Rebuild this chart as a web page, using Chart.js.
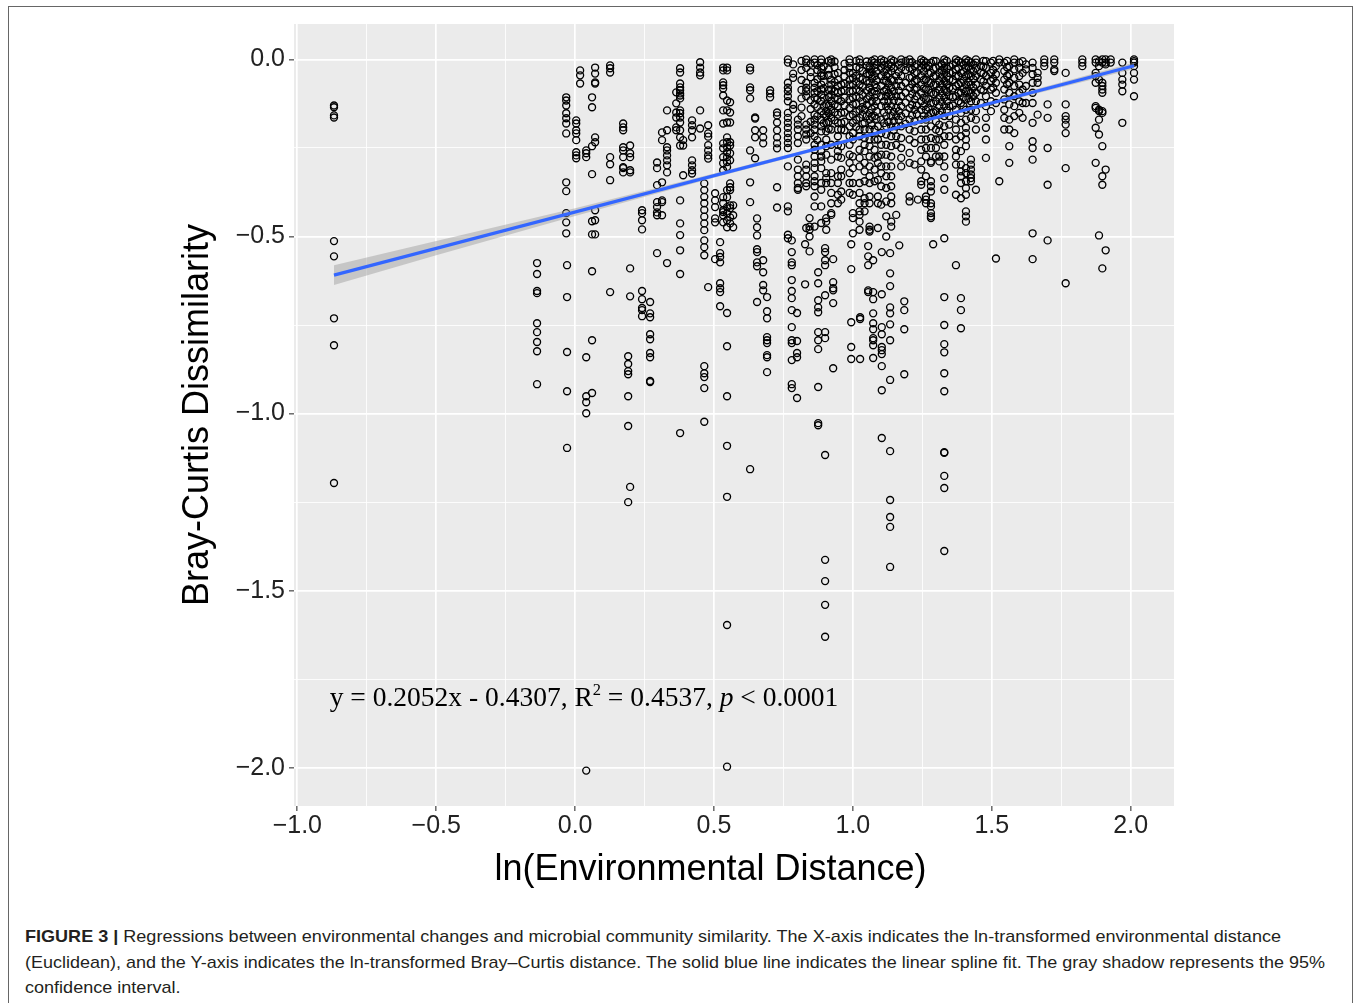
<!DOCTYPE html>
<html><head><meta charset="utf-8">
<script src="https://cdn.jsdelivr.net/npm/chart.js@4.4.1/dist/chart.umd.min.js"></script>
<style>
html,body{margin:0;padding:0;background:#fff;width:1360px;height:1003px;overflow:hidden;}
#frame{position:absolute;left:8px;top:6px;width:1345px;height:1020px;border:1px solid #666;box-sizing:border-box;}
#wrap{position:absolute;left:0;top:0;width:1360px;height:900px;}
.cap{position:absolute;left:25px;font-family:"Liberation Sans Narrow","Liberation Sans",Arial,sans-serif;font-size:17px;line-height:20px;color:#231f20;white-space:nowrap;transform-origin:0 50%;}
</style></head>
<body>
<div id="frame"></div>
<div id="wrap"><canvas id="c" width="1360" height="900"></canvas></div>
<div class="cap" id="l1" style="top:927px"><b>FIGURE 3 |</b> Regressions between environmental changes and microbial community similarity. The X-axis indicates the ln-transformed environmental distance</div>
<div class="cap" id="l2" style="top:953px">(Euclidean), and the Y-axis indicates the ln-transformed Bray–Curtis distance. The solid blue line indicates the linear spline fit. The gray shadow represents the 95%</div>
<div class="cap" id="l3" style="top:978px">confidence interval.</div>
<script>
// ---- data ----
const xMajor = [-1, -0.5, 0, 0.5, 1, 1.5, 2];
const xMinor = [-0.75, -0.25, 0.25, 0.75, 1.25, 1.75];
const yMajor = [0, -0.5, -1, -1.5, -2];
const yMinor = [-0.25, -0.75, -1.25, -1.75];

const columnX = [
 -0.868,-0.137,-0.032,-0.029,0.004,0.018,0.040,0.061,0.072,0.126,
 0.173,0.191,0.198,0.241,0.270,0.295,0.313,0.331,0.364,0.378,
 0.389,0.421,0.450,0.465,0.479,0.504,0.522,0.533,0.547,0.558,
 0.569,0.630,0.648,0.655,0.677,0.691,0.702,0.727,0.766,0.780,
 0.799,0.802,0.828,0.832,0.844,0.862,0.875,0.886,0.900,0.904,
 0.922,0.929,0.946,0.958,0.988,0.994,1.000,1.024,1.026,1.042,
 1.055,1.060,1.073,1.078,1.090,1.102,1.104,1.120,1.134,1.138,
 1.156,1.167,1.174,1.185,1.204,1.222,1.234,1.246,1.263,1.281,
 1.289,1.299,1.311,1.329,1.347,1.371,1.389,1.407,1.425,1.443,
 1.461,1.479,1.497,1.515,1.527,1.545,1.563,1.581,1.599,1.611,
 1.623,1.647,1.665,1.689,1.701,1.725,1.766,1.826,1.874,1.886,
 1.898,1.910,1.928,1.970,2.012
];
const columnY = [
 [-0.130,-0.135,-0.158,-0.164,-0.513,-0.556,-0.731,-0.807,-1.196],
 [-0.575,-0.606,-0.654,-0.660,-0.745,-0.770,-0.798,-0.824,-0.917],
 [-0.107,-0.116,-0.130,-0.152,-0.166,-0.181,-0.209,-0.347,-0.372,-0.434,-0.460,-0.491],
 [-0.581,-0.671,-0.826,-0.937,-1.097],
 [-0.172,-0.181,-0.200,-0.209,-0.228,-0.262,-0.271,-0.279],
 [-0.031,-0.045,-0.068],
 [-0.257,-0.265,-0.276,-0.841,-0.951,-0.968,-0.999,-2.008],
 [-0.107,-0.135,-0.245,-0.324,-0.457,-0.494,-0.598,-0.793,-0.942],
 [-0.023,-0.040,-0.065,-0.068,-0.220,-0.234,-0.426,-0.454,-0.494],
 [-0.017,-0.025,-0.037,-0.276,-0.296,-0.341,-0.657],
 [-0.181,-0.192,-0.200,-0.248,-0.257,-0.276,-0.304,-0.307,-0.319],
 [-0.838,-0.860,-0.880,-0.889,-0.951,-1.035,-1.250],
 [-0.243,-0.265,-0.276,-0.313,-0.319,-0.590,-0.669,-1.207],
 [-0.426,-0.434,-0.454,-0.480,-0.654,-0.677,-0.702,-0.708,-0.725],
 [-0.685,-0.717,-0.728,-0.776,-0.790,-0.829,-0.841,-0.908,-0.911],
 [-0.291,-0.307,-0.355,-0.403,-0.417,-0.432,-0.440,-0.547],
 [-0.206,-0.228,-0.347,-0.398,-0.403,-0.440],
 [-0.144,-0.200,-0.248,-0.257,-0.271,-0.285,-0.299,-0.319,-0.575],
 [-0.093,-0.124,-0.150,-0.164,-0.192,-0.200],
 [-0.025,-0.037,-0.068,-0.079,-0.087,-0.096,-0.102,-0.110,-0.144,-0.152,-0.164,-0.178,-0.200,-0.220,-0.243,-0.398,-0.463,-0.496,-0.539,-0.606,-1.055],
 [-0.228,-0.243,-0.327],
 [-0.172,-0.186,-0.200,-0.220,-0.285,-0.299,-0.313,-0.322],
 [-0.008,-0.023,-0.037,-0.045,-0.144,-0.195],
 [-0.350,-0.369,-0.388,-0.406,-0.425,-0.444,-0.463,-0.482,-0.511,-0.530,-0.553,-0.866,-0.886,-0.897,-0.928,-1.023],
 [-0.186,-0.209,-0.218,-0.242,-0.257,-0.271,-0.280,-0.643],
 [-0.378,-0.398,-0.417,-0.449,-0.460,-0.564],
 [-0.516,-0.547,-0.558,-0.573,-0.632,-0.646,-0.657,-0.697],
 [-0.023,-0.031,-0.065,-0.073,-0.082,-0.102,-0.144,-0.181,-0.237,-0.251,-0.276,-0.293,-0.313,-0.389,-0.406,-0.426,-0.431,-0.440,-0.460],
 [-0.023,-0.031,-0.116,-0.144,-0.178,-0.220,-0.234,-0.248,-0.262,-0.276,-0.290,-0.304,-0.369,-0.389,-0.417,-0.434,-0.454,-0.474,-0.716,-0.810,-0.951,-1.091,-1.235,-1.597,-1.997],
 [-0.121,-0.150,-0.178,-0.234,-0.243,-0.265,-0.285,-0.350,-0.361,-0.369,-0.412,-0.420,-0.446,-0.463],
 [-0.412,-0.440,-0.474],
 [-0.023,-0.031,-0.079,-0.087,-0.110,-0.257,-0.347,-0.403,-1.157],
 [-0.164,-0.167,-0.200,-0.220,-0.279],
 [-0.449,-0.474,-0.497,-0.536,-0.544,-0.573,-0.584,-0.685],
 [-0.200,-0.220,-0.237,-0.567,-0.601,-0.637,-0.652],
 [-0.671,-0.711,-0.731,-0.784,-0.793,-0.801,-0.835,-0.841,-0.883],
 [-0.087,-0.096,-0.107],
 [-0.150,-0.158,-0.178,-0.200,-0.220,-0.237,-0.251,-0.361,-0.418],
 [0,-0.009,-0.066,-0.080,-0.090,-0.104,-0.118,-0.151,-0.165,-0.179,-0.193,-0.208,-0.222,-0.236,-0.250,-0.302,-0.415,-0.429,-0.495,-0.505],
 [-0.511,-0.544,-0.573,-0.581,-0.623,-0.654,-0.674,-0.708,-0.756,-0.793,-0.801,-0.849,-0.917,-0.928],
 [-0.716,-0.795,-0.829,-0.841,-0.956],
 [-0.170,-0.184,-0.198,-0.217,-0.236,-0.283,-0.311,-0.330,-0.349,-0.363,-0.368],
 [-0.522,-0.635],
 [0,-0.009,-0.024,-0.066,-0.080,-0.090,-0.104,-0.184,-0.198,-0.212,-0.226,-0.297,-0.311,-0.330,-0.349,-0.358,-0.476],
 [-0.448,-0.472,-0.481,-0.500,-0.542],
 [0,-0.009,-0.066,-0.080,-0.094,-0.108,-0.127,-0.156,-0.170,-0.184,-0.198,-0.217,-0.241,-0.255,-0.274,-0.292,-0.307,-0.330,-0.344,-0.358,-0.387,-0.415,-0.472],
 [-0.601,-0.632,-0.680,-0.700,-0.714,-0.770,-0.793,-0.818,-0.925,-1.027,-1.033],
 [0,-0.009,-0.024,-0.038,-0.047,-0.071,-0.085,-0.099,-0.118,-0.146,-0.170,-0.189,-0.203,-0.241,-0.259,-0.274,-0.288,-0.307,-0.349,-0.368,-0.415,-0.462],
 [-0.533,-0.544,-0.567,-0.581,-0.666,-0.770,-0.787,-1.117,-1.413,-1.473,-1.540,-1.630],
 [-0.127,-0.146,-0.160,-0.179,-0.203,-0.226,-0.245,-0.269,-0.321,-0.335,-0.349,-0.448,-0.458,-0.481],
 [0,-0.009,-0.057,-0.071,-0.085,-0.099,-0.118,-0.142,-0.165,-0.198,-0.241,-0.283,-0.321,-0.349,-0.377,-0.406,-0.434,-0.439],
 [-0.564,-0.629,-0.646,-0.652,-0.688,-0.872],
 [-0.038,-0.057,-0.075,-0.094,-0.113,-0.132,-0.156,-0.179,-0.198,-0.217,-0.241,-0.259,-0.274,-0.330,-0.349,-0.382,-0.406],
 [-0.071,-0.090,-0.118,-0.151,-0.179,-0.198,-0.245,-0.278,-0.311,-0.330,-0.373,-0.396],
 [0,-0.009,-0.024,-0.038,-0.057,-0.071,-0.090,-0.113,-0.137,-0.160,-0.189,-0.217,-0.241,-0.269,-0.292,-0.321,-0.349,-0.377],
 [-0.522,-0.592,-0.742,-0.812,-0.846],
 [-0.038,-0.052,-0.071,-0.090,-0.108,-0.127,-0.156,-0.179,-0.208,-0.226,-0.274,-0.307,-0.349,-0.382,-0.434,-0.448,-0.491],
 [0,-0.009,-0.024,-0.052,-0.071,-0.090,-0.108,-0.142,-0.165,-0.198,-0.217,-0.255,-0.278,-0.302,-0.349,-0.377,-0.406,-0.429,-0.439,-0.458,-0.481],
 [-0.728,-0.733,-0.846],
 [-0.142,-0.179,-0.198,-0.222,-0.241,-0.259,-0.292,-0.316,-0.344,-0.392,-0.406,-0.429],
 [-0.527,-0.556,-0.581,-0.652,-0.657],
 [-0.019,-0.028,-0.042,-0.066,-0.080,-0.104,-0.151,-0.170,-0.198,-0.226,-0.245,-0.274,-0.302,-0.330,-0.349,-0.387,-0.406,-0.472,-0.481,-0.486],
 [-0.567,-0.657,-0.677,-0.717,-0.745,-0.762,-0.787,-0.793,-0.807,-0.843],
 [0,-0.009,-0.024,-0.047,-0.071,-0.090,-0.108,-0.132,-0.160,-0.198,-0.226,-0.255,-0.278,-0.311,-0.344],
 [-0.189,-0.226,-0.274,-0.292,-0.340,-0.387,-0.406,-0.476],
 [0,-0.009,-0.024,-0.047,-0.075,-0.104,-0.132,-0.170,-0.208,-0.241,-0.269,-0.302,-0.321,-0.358,-0.410],
 [-0.544,-0.663,-0.756,-0.776,-0.812,-0.821,-0.832,-0.866,-0.934,-1.069],
 [-0.028,-0.047,-0.061,-0.085,-0.104,-0.132,-0.160,-0.189,-0.212,-0.241,-0.269,-0.302,-0.330,-0.363,-0.401,-0.443,-0.500],
 [-0.547,-0.604,-0.640,-0.700,-0.717,-0.748,-0.793,-0.905,-1.106,-1.244,-1.292,-1.320,-1.433],
 [0,-0.009,-0.019,-0.033,-0.057,-0.080,-0.104,-0.132,-0.160,-0.189,-0.217,-0.245,-0.274,-0.302,-0.330,-0.358,-0.387,-0.406,-0.458,-0.472],
 [-0.047,-0.075,-0.104,-0.137,-0.160,-0.189,-0.217,-0.241,-0.439],
 [-0.525],
 [0,-0.009,-0.024,-0.047,-0.075,-0.104,-0.132,-0.160,-0.189,-0.222,-0.250,-0.278,-0.302],
 [-0.683,-0.708,-0.762,-0.889],
 [0,-0.009,-0.024,-0.052,-0.080,-0.108,-0.137,-0.170,-0.198,-0.226,-0.264,-0.292,-0.387,-0.401],
 [-0.019,-0.038,-0.061,-0.085,-0.113,-0.142,-0.175,-0.203,-0.236,-0.297],
 [-0.396],
 [0,-0.009,-0.024,-0.047,-0.071,-0.094,-0.118,-0.142,-0.170,-0.198,-0.226,-0.255,-0.288,-0.311,-0.344,-0.354],
 [-0.009,-0.024,-0.057,-0.085,-0.113,-0.142,-0.170,-0.198,-0.226,-0.250,-0.274,-0.330,-0.387,-0.396,-0.406],
 [-0.009,-0.038,-0.066,-0.094,-0.123,-0.151,-0.189,-0.222,-0.250,-0.288,-0.292,-0.344,-0.358,-0.373,-0.406,-0.415,-0.434,-0.443,-0.448],
 [-0.522],
 [-0.005,-0.024,-0.047,-0.071,-0.094,-0.118,-0.146,-0.175,-0.198,-0.226,-0.250,-0.274],
 [-0.019,-0.038,-0.061,-0.085,-0.108,-0.132,-0.156,-0.184,-0.203,-0.226,-0.274,-0.288],
 [0,-0.009,-0.024,-0.038,-0.061,-0.085,-0.108,-0.132,-0.160,-0.189,-0.217,-0.241,-0.274,-0.302,-0.335,-0.368,-0.505,-0.671,-0.750,-0.804,-0.827,-0.886,-0.937,-1.109,-1.111,-1.176,-1.210,-1.388],
 [-0.019,-0.038,-0.057,-0.080,-0.104,-0.132,-0.160,-0.184,-0.217],
 [0,-0.009,-0.028,-0.047,-0.075,-0.104,-0.142,-0.170,-0.198,-0.226,-0.255,-0.274,-0.297,-0.382,-0.581],
 [-0.009,-0.038,-0.066,-0.094,-0.123,-0.151,-0.179,-0.217,-0.259,-0.297,-0.316,-0.330,-0.349,-0.392,-0.674,-0.708,-0.759],
 [0,-0.009,-0.024,-0.047,-0.071,-0.090,-0.113,-0.142,-0.170,-0.193,-0.208,-0.226,-0.245,-0.307,-0.321,-0.344,-0.363,-0.382,-0.429,-0.443,-0.458],
 [-0.009,-0.028,-0.047,-0.071,-0.094,-0.118,-0.142,-0.165,-0.283,-0.297,-0.311,-0.325,-0.335,-0.344],
 [0,-0.009,-0.024,-0.047,-0.071,-0.094,-0.118,-0.146,-0.170,-0.198,-0.368],
 [-0.019,-0.038,-0.057,-0.085,-0.123],
 [-0.005,-0.024,-0.047,-0.075,-0.104,-0.132,-0.165,-0.193,-0.226,-0.278],
 [-0.009,-0.038,-0.061,-0.085,-0.118,-0.146],
 [-0.019,-0.042,-0.066,-0.094,-0.123,-0.562],
 [0,-0.009,-0.344],
 [-0.009,-0.033,-0.057,-0.085,-0.113,-0.142,-0.165,-0.198],
 [-0.019,-0.042,-0.066,-0.094,-0.127,-0.170,-0.198,-0.245,-0.292],
 [0,-0.009,-0.028,-0.052,-0.075,-0.104,-0.132,-0.160,-0.208],
 [-0.009,-0.024,-0.047,-0.071,-0.094,-0.118,-0.151],
 [-0.005,-0.038,-0.085,-0.123,-0.165],
 [-0.014,-0.028,-0.075,-0.123],
 [-0.009,-0.024,-0.042,-0.066,-0.094,-0.123,-0.179,-0.231,-0.250,-0.283,-0.491,-0.564],
 [-0.038,-0.052,-0.066,-0.156],
 [0,-0.009,-0.019],
 [-0.127,-0.165,-0.250,-0.354,-0.511],
 [0,-0.009,-0.028,-0.033],
 [-0.038,-0.127,-0.160,-0.170,-0.184,-0.208,-0.307,-0.632],
 [0,-0.009,-0.019],
 [0,-0.009,-0.038,-0.047,-0.066,-0.132,-0.137,-0.193,-0.292],
 [-0.005,-0.019,-0.057,-0.142,-0.146,-0.170,-0.212,-0.497],
 [0,-0.009,-0.066,-0.075,-0.085,-0.094,-0.146,-0.151,-0.245,-0.330,-0.354,-0.590],
 [0,-0.009,-0.014,-0.311,-0.539],
 [0,-0.009],
 [-0.009,-0.038,-0.057,-0.071,-0.090,-0.179],
 [0,-0.005,-0.009,-0.019,-0.038,-0.057,-0.104]
];

// overlapping points of the saturated cluster near the top (estimated)
const clusterX = [
 0.785,0.815,0.848,0.872,0.895,0.913,0.934,0.970,1.012,1.035,
 1.050,1.068,1.085,1.112,1.128,1.147,1.165,1.190,1.213,1.230,
 1.255,1.272,1.290,1.320,1.338,1.360,1.380,1.398,1.416,1.434,
 1.470,1.505,1.555
];
const clusterY = [
 [-0.014,-0.040,-0.052,-0.128,-0.140],
 [-0.004,-0.030,-0.058,-0.086,-0.110,-0.136,-0.160],
 [-0.012,-0.036,-0.050,-0.115,-0.140,-0.176,-0.208],
 [-0.016,-0.030,-0.056,-0.090,-0.112,-0.134,-0.160,-0.228],
 [-0.020,-0.046,-0.062,-0.082,-0.108,-0.132,-0.155,-0.180],
 [-0.004,-0.028,-0.044,-0.086,-0.106,-0.130,-0.152,-0.176,-0.196],
 [-0.006,-0.022,-0.042,-0.064,-0.090,-0.108,-0.128,-0.150,-0.172],
 [-0.012,-0.030,-0.048,-0.068,-0.088,-0.108,-0.130,-0.150,-0.176,-0.200],
 [-0.004,-0.022,-0.046,-0.062,-0.084,-0.104,-0.126,-0.148,-0.170,-0.190],
 [-0.032,-0.056,-0.078,-0.100,-0.120,-0.134,-0.156,-0.182],
 [-0.006,-0.018,-0.040,-0.060,-0.088,-0.112,-0.128,-0.160],
 [-0.004,-0.036,-0.054,-0.092,-0.118,-0.140,-0.162,-0.186],
 [-0.014,-0.034,-0.058,-0.080,-0.098,-0.118,-0.146,-0.168],
 [-0.004,-0.016,-0.036,-0.060,-0.090,-0.118,-0.150,-0.180],
 [-0.014,-0.040,-0.068,-0.094,-0.118,-0.142,-0.176],
 [-0.004,-0.024,-0.060,-0.090,-0.116,-0.148,-0.174,-0.200],
 [-0.014,-0.036,-0.060,-0.088,-0.118,-0.146,-0.170],
 [-0.004,-0.030,-0.066,-0.094,-0.122,-0.152,-0.182],
 [-0.008,-0.028,-0.050,-0.070,-0.098,-0.128,-0.158],
 [-0.014,-0.036,-0.058,-0.080,-0.104,-0.130,-0.154],
 [-0.004,-0.016,-0.034,-0.058,-0.082,-0.108,-0.132,-0.160],
 [-0.018,-0.040,-0.062,-0.086,-0.110,-0.136,-0.160],
 [-0.004,-0.026,-0.048,-0.072,-0.098,-0.124,-0.150],
 [-0.014,-0.030,-0.050,-0.072,-0.096,-0.120,-0.146],
 [-0.004,-0.026,-0.048,-0.070,-0.092,-0.118,-0.144],
 [-0.014,-0.036,-0.058,-0.082,-0.106,-0.130],
 [-0.004,-0.024,-0.046,-0.070,-0.094,-0.118],
 [-0.014,-0.036,-0.060,-0.084,-0.108,-0.132],
 [-0.004,-0.020,-0.042,-0.064,-0.088,-0.110],
 [-0.014,-0.034,-0.056,-0.080,-0.104],
 [-0.004,-0.020,-0.040,-0.062,-0.088],
 [-0.004,-0.030,-0.054,-0.080],
 [-0.004,-0.022,-0.046,-0.070]
];

// fitted line (from reported equation, read endpoints) and 95% CI band
const fitX = [-0.868, 2.012];
const fitY = [-0.609, -0.018];
const bandX = [-0.868, -0.5, 0, 0.5, 1.0, 1.5, 2.012];
const bandUpper = [-0.581, -0.513, -0.420, -0.322, -0.222, -0.118, -0.009];
const bandLower = [-0.637, -0.553, -0.442, -0.334, -0.230, -0.128, -0.027];

const xTitle = 'ln(Environmental Distance)';
const yTitle = 'Bray-Curtis Dissimilarity';

// ---- chart ----
const FONT = '"Liberation Sans", Arial, Helvetica, sans-serif';
const points = [];
columnX.forEach((x, i) => columnY[i].forEach(y => points.push({x, y})));
clusterX.forEach((x, i) => clusterY[i].forEach(y => points.push({x, y})));
const fitPts = fitX.map((x, i) => ({x, y: fitY[i]}));
const upPts = bandX.map((x, i) => ({x, y: bandUpper[i]}));
const loPts = bandX.map((x, i) => ({x, y: bandLower[i]}));

const fmt = v => { const s = Math.abs(v).toFixed(1); return v < 0 ? '\u2212' + s : s; };
const isIn = (arr, v) => arr.some(a => Math.abs(a - v) < 1e-9);

const panelBg = {
  id: 'panelBg',
  beforeDraw(chart) {
    const {ctx, chartArea: a} = chart;
    ctx.save();
    ctx.fillStyle = '#EBEBEB';
    ctx.fillRect(a.left, a.top, a.right - a.left, a.bottom - a.top);
    ctx.restore();
  }
};
const annot = {
  id: 'annot',
  afterDraw(chart) {
    const {ctx, scales: {x, y}} = chart;
    ctx.save();
    ctx.fillStyle = '#000';
    ctx.textBaseline = 'alphabetic';
    const size = 27.5;
    const serif = '"Liberation Serif", "Times New Roman", serif';
    const parts = [
      {t: 'y = 0.2052x - 0.4307, R', f: `${size}px ${serif}`, dy: 0},
      {t: '2', f: `${size * 0.6}px ${serif}`, dy: -size * 0.38},
      {t: ' = 0.4537, ', f: `${size}px ${serif}`, dy: 0},
      {t: 'p', f: `italic ${size}px ${serif}`, dy: 0},
      {t: ' < 0.0001', f: `${size}px ${serif}`, dy: 0}
    ];
    let total = 0;
    parts.forEach(p => { ctx.font = p.f; p.w = ctx.measureText(p.t).width; total += p.w; });
    let cx = x.getPixelForValue(0.032) - total / 2;
    const by = y.getPixelForValue(-1.825);
    ctx.textAlign = 'left';
    parts.forEach(p => { ctx.font = p.f; ctx.fillText(p.t, cx, by + p.dy); cx += p.w; });
    ctx.font = `36px ${FONT}`;
    ctx.textAlign = 'center';
    ctx.fillText(xTitle, 710.5, 880);
    ctx.restore();
  }
};

new Chart(document.getElementById('c'), {
  type: 'scatter',
  data: {
    datasets: [
      {label: 'fit', data: fitPts, showLine: true, borderColor: '#3366FF', borderWidth: 3.2, pointRadius: 0, fill: false, order: 0},
      {label: 'ciUpper', data: upPts, showLine: true, borderWidth: 0, borderColor: 'rgba(0,0,0,0)', pointRadius: 0, fill: '+1', backgroundColor: 'rgba(153,153,153,0.45)', order: 1},
      {label: 'ciLower', data: loPts, showLine: true, borderWidth: 0, borderColor: 'rgba(0,0,0,0)', pointRadius: 0, fill: false, order: 2},
      {label: 'pairs', data: points, showLine: false, pointRadius: 3.5, pointBorderWidth: 1.35, pointBorderColor: '#000', pointBackgroundColor: 'rgba(0,0,0,0)', order: 3}
    ]
  },
  options: {
    responsive: false,
    animation: false,
    events: [],
    layout: {padding: {left: 0, top: 24, right: 186, bottom: 0}},
    plugins: {legend: {display: false}, tooltip: {enabled: false}},
    scales: {
      x: {
        type: 'linear', min: -1.012, max: 2.156,
        afterBuildTicks: s => { s.ticks = [...xMajor, ...xMinor].sort((a, b) => a - b).map(v => ({value: v})); },
        afterFit: s => { s.height = 94; },
        ticks: {
          autoSkip: false, maxRotation: 0, padding: 3,
          font: {family: FONT, size: 25, lineHeight: 1},
          color: '#222',
          callback: v => isIn(xMajor, v) ? fmt(v) : ''
        },
        grid: {
          color: '#FFFFFF',
          lineWidth: c => (c.tick && isIn(xMajor, c.tick.value)) ? 1.7 : 0.85,
          tickColor: c => (c.tick && isIn(xMajor, c.tick.value)) ? '#333' : 'rgba(0,0,0,0)',
          tickLength: 5, tickWidth: 1.1, drawTicks: true
        },
        border: {display: false},
        title: {display: false}
      },
      y: {
        type: 'linear', min: -2.108, max: 0.1,
        afterBuildTicks: s => { s.ticks = [...yMajor, ...yMinor].sort((a, b) => a - b).map(v => ({value: v})); },
        afterFit: s => { s.width = 294; },
        ticks: {
          autoSkip: false, padding: 4,
          font: {family: FONT, size: 25, lineHeight: 1},
          color: '#222',
          callback: v => isIn(yMajor, v) ? fmt(v) : ''
        },
        grid: {
          color: '#FFFFFF',
          lineWidth: c => (c.tick && isIn(yMajor, c.tick.value)) ? 1.7 : 0.85,
          tickColor: c => (c.tick && isIn(yMajor, c.tick.value)) ? '#333' : 'rgba(0,0,0,0)',
          tickLength: 5, tickWidth: 1.1, drawTicks: true
        },
        border: {display: false},
        title: {
          display: true, text: yTitle, color: '#000',
          font: {family: FONT, size: 36, lineHeight: 1.2},
          padding: {top: 176, bottom: 0}
        }
      }
    }
  },
  plugins: [panelBg, annot]
});

function fitCaption() {
  const l1 = document.getElementById('l1'), l2 = document.getElementById('l2'), l3 = document.getElementById('l3');
  const s1 = 1256 / l1.getBoundingClientRect().width;
  const s2 = 1300 / l2.getBoundingClientRect().width;
  l1.style.transform = `scaleX(${s1})`;
  l2.style.transform = `scaleX(${s2})`;
  l3.style.transform = `scaleX(${s1})`;
}
fitCaption();
</script>
</body></html>
